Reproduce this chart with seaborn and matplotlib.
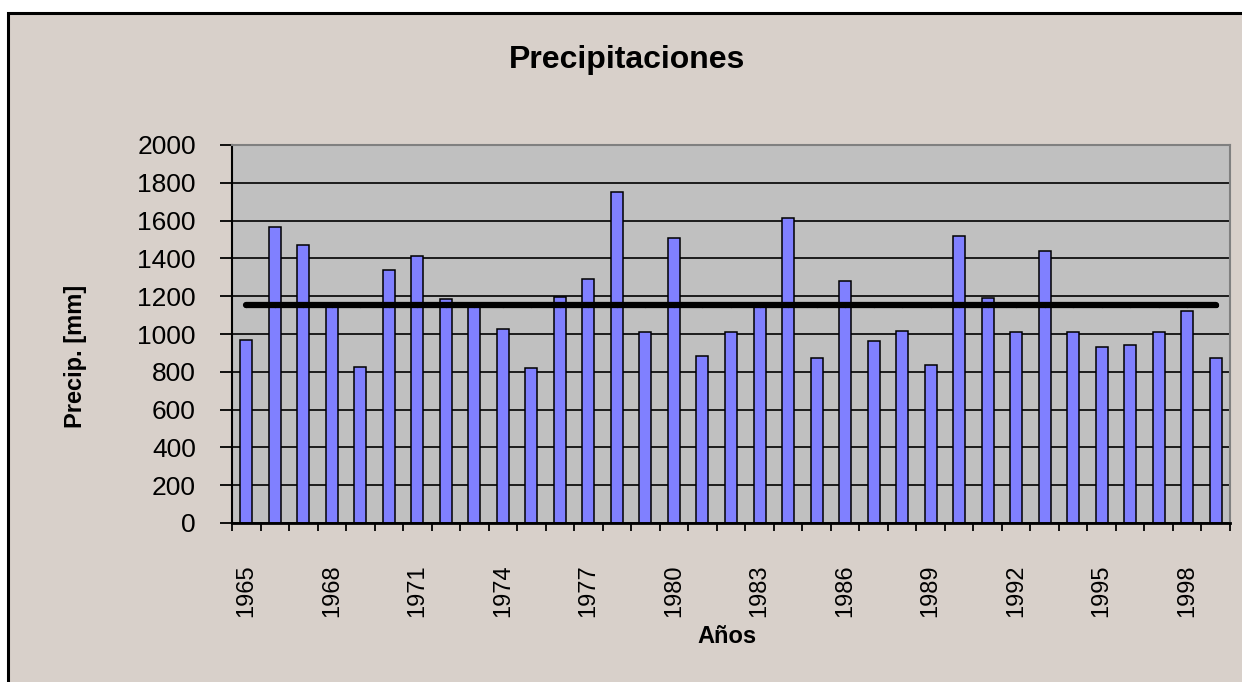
import matplotlib
matplotlib.use("Agg")
import matplotlib.pyplot as plt
import matplotlib.patches as mpatches
import seaborn as sns
import numpy as np
from pandas import DataFrame

# data
years = [str(y) for y in range(1965, 2000)]
precip = [968, 1564, 1469, 1150, 827, 1339, 1413, 1183, 1150, 1025,
          820, 1194, 1289, 1753, 1009, 1506, 884, 1009, 1150, 1612,
          875, 1282, 961, 1018, 838, 1517, 1190, 1009, 1441, 1009,
          933, 942, 1009, 1122, 875]
yticks = list(range(0, 2001, 200))
xlabels_every = 3

media = float(np.mean(precip))

df = DataFrame({"Año": years, "Precip": precip, "Media": [media] * len(years)})

sns.set_style("white")
plt.rcParams["font.family"] = ["Liberation Sans", "DejaVu Sans"]
plt.rcParams["text.color"] = "black"
plt.rcParams["axes.labelcolor"] = "black"
plt.rcParams["xtick.color"] = "black"
plt.rcParams["ytick.color"] = "black"

chart_bg = "#D8D0CA"
plot_bg = "#C0C0C0"
bar_color = "#8080FF"

fig = plt.figure(figsize=(12.42, 6.82), dpi=100)
fig.patch.set_facecolor("white")
# chart area with black frame
fig.patches.append(mpatches.Rectangle((8 / 1242, -0.05), 1.1, 1 - 13 / 682 + 0.05,
                                      transform=fig.transFigure, facecolor=chart_bg,
                                      edgecolor="black", linewidth=2.2, zorder=-5))

ax = fig.add_axes([232 / 1242, 1 - 523 / 682, (1230 - 232) / 1242, (523 - 145) / 682])
ax.set_facecolor(plot_bg)

sns.barplot(data=df, x="Año", y="Precip", color=bar_color, saturation=1,
            width=0.42, edgecolor="black", linewidth=1.1, ax=ax, zorder=2)
sns.lineplot(data=df, x="Año", y="Media", color="black", linewidth=4.5,
             marker="o", markersize=3, markerfacecolor="black", markeredgecolor="black",
             solid_capstyle="round", ax=ax, zorder=3)

ax.set_ylim(0, 2000)
ax.set_xlim(-0.5, len(years) - 0.5)
ax.set_yticks(yticks)
ax.set_yticklabels([str(v) for v in yticks], fontsize=19)
ax.tick_params(axis="y", direction="out", length=9, width=1.3, color="black", pad=17, left=True)

ax.set_xticks(np.arange(-0.5, len(years), 1))
ax.set_xticklabels([])
ax.tick_params(axis="x", which="major", direction="out", length=6, width=1.3,
               color="black", bottom=True)
ax.set_xticks(range(0, len(years), xlabels_every), minor=True)
ax.set_xticklabels(years[::xlabels_every], minor=True, rotation=90, fontsize=17)
ax.tick_params(axis="x", which="minor", length=0, pad=30)

ax.grid(axis="y", color="black", linewidth=1.2)
ax.grid(axis="x", visible=False)
ax.set_axisbelow(True)

for side in ["top", "right"]:
    ax.spines[side].set_color("#808080")
    ax.spines[side].set_linewidth(1.5)
ax.spines["left"].set_color("black")
ax.spines["left"].set_linewidth(1.5)
ax.spines["bottom"].set_color("black")
ax.spines["bottom"].set_linewidth(2)

ax.set_ylabel("Precip. [mm]", fontsize=17, fontweight="bold")
ax.yaxis.set_label_coords(-0.145, 0.442)
ax.set_xlabel("Años", fontsize=17, fontweight="bold")
ax.xaxis.set_label_coords(0.496, -0.27)

fig.text(627 / 1242, 1 - 60 / 682, "Precipitaciones", fontsize=23, fontweight="bold",
         ha="center", va="center")

fig.savefig("out.png", dpi=100, facecolor=fig.get_facecolor())
